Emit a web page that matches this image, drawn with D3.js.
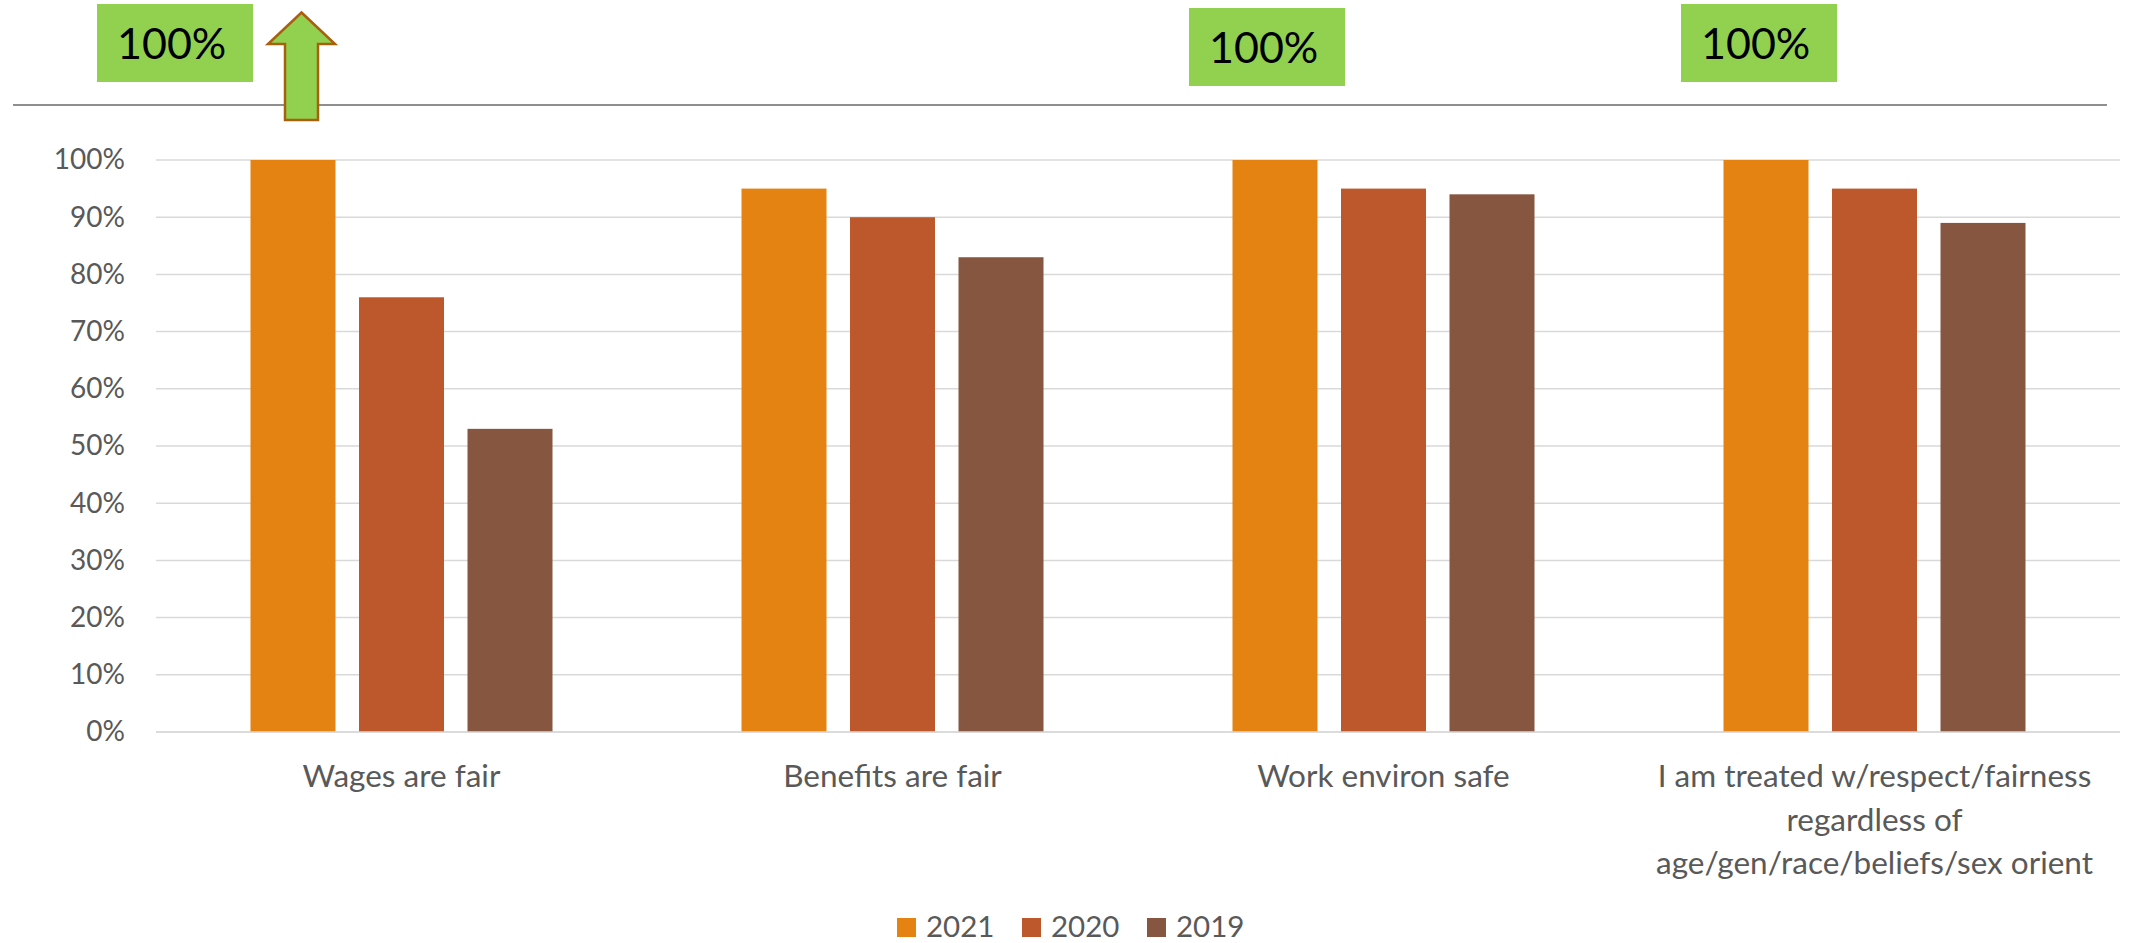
<!DOCTYPE html>
<html>
<head>
<meta charset="utf-8">
<script src="https://cdn.jsdelivr.net/npm/d3@7"></script>
<style>
  html, body { margin: 0; padding: 0; background: #ffffff; }
  svg { display: block; }
  text { font-family: "Lato", "Open Sans", sans-serif; }
</style>
</head>
<body>
<svg id="chart" width="2131" height="943"></svg>
<script>
// Survey results: share agreeing with each statement, by year
const categories = [
  "Wages are fair",
  "Benefits are fair",
  "Work environ safe",
  "I am treated w/respect/fairness regardless of age/gen/race/beliefs/sex orient"
];
const seriesNames = ["2021", "2020", "2019"];
const values2021 = [1.00, 0.95, 1.00, 1.00];
const values2020 = [0.76, 0.90, 0.95, 0.95];
const values2019 = [0.53, 0.83, 0.94, 0.89];
const yTicks = [0, 0.1, 0.2, 0.3, 0.4, 0.5, 0.6, 0.7, 0.8, 0.9, 1.0];
// Categories whose 2021 result gets a highlighted call-out box
const calloutCategories = ["Wages are fair", "Work environ safe", "I am treated w/respect/fairness regardless of age/gen/race/beliefs/sex orient"];

const seriesValues = [values2021, values2020, values2019];
const colors = ["#e48312", "#bd582c", "#865640"];

const svg = d3.select("#chart");
const plot = { left: 156, right: 2120, top: 160, bottom: 732 };

const x0 = d3.scaleBand().domain(categories).range([plot.left, plot.right]).padding(0);
const groupPad = 94.5;
const x1 = d3.scaleBand().domain(seriesNames)
  .range([groupPad, x0.bandwidth() - groupPad])
  .paddingInner(0.2166).paddingOuter(0);
const y = d3.scaleLinear().domain([0, 1]).range([plot.bottom, plot.top]);
const color = d3.scaleOrdinal().domain(seriesNames).range(colors);

// Horizontal gridlines
svg.append("g").selectAll("line").data(yTicks).join("line")
  .attr("x1", plot.left).attr("x2", plot.right)
  .attr("y1", d => y(d)).attr("y2", d => y(d))
  .attr("stroke", "#d9d9d9").attr("stroke-width", 1.5);

// Y axis labels
const yAxis = d3.axisLeft(y).tickValues(yTicks).tickFormat(d3.format(".0%"))
  .tickSize(0).tickPadding(31);
const yg = svg.append("g").attr("transform", `translate(${plot.left},0)`).call(yAxis);
yg.select(".domain").remove();
yg.selectAll("text").attr("fill", "#595959").style("font-size", "28px")
  .style("font-family", "Lato, 'Open Sans', sans-serif");

// Bars
const rows = categories.map((c, i) => ({ cat: c, vals: seriesNames.map((s, j) => ({ s, v: seriesValues[j][i] })) }));
const groups = svg.append("g").selectAll("g").data(rows).join("g")
  .attr("transform", d => `translate(${x0(d.cat)},0)`);
groups.selectAll("rect").data(d => d.vals).join("rect")
  .attr("x", d => x1(d.s))
  .attr("width", x1.bandwidth())
  .attr("y", d => y(d.v))
  .attr("height", d => y(0) - y(d.v))
  .attr("fill", d => color(d.s));

// Category axis line
svg.append("line")
  .attr("x1", plot.left).attr("x2", plot.right)
  .attr("y1", y(0)).attr("y2", y(0))
  .attr("stroke", "#d9d9d9").attr("stroke-width", 1.5);

// Category labels with word wrap inside each band
const catFont = 31.5;
const lineHeight = 43.5;
const labels = svg.append("g").selectAll("text").data(categories).join("text")
  .attr("x", d => x0(d) + x0.bandwidth() / 2)
  .attr("y", 787)
  .attr("text-anchor", "middle")
  .attr("fill", "#595959")
  .style("font-size", catFont + "px");
labels.each(function (d) {
  const t = d3.select(this);
  const words = d.split(" ");
  const maxW = x0.bandwidth() - 10;
  let line = [];
  let tspan = t.append("tspan").attr("x", x0(d) + x0.bandwidth() / 2).attr("dy", 0);
  words.forEach(w => {
    line.push(w);
    tspan.text(line.join(" "));
    if (tspan.node().getComputedTextLength() > maxW && line.length > 1) {
      line.pop();
      tspan.text(line.join(" "));
      line = [w];
      tspan = t.append("tspan").attr("x", x0(d) + x0.bandwidth() / 2)
        .attr("dy", lineHeight).text(w);
    }
  });
});

// Legend
const legendX = 897, legendStep = 125;
const legend = svg.append("g").selectAll("g").data(seriesNames).join("g")
  .attr("transform", (d, i) => `translate(${legendX + i * legendStep},918)`);
legend.append("rect").attr("width", 19).attr("height", 19).attr("fill", d => color(d));
legend.append("text").attr("x", 29).attr("y", 19)
  .attr("fill", "#595959").style("font-size", "29.5px").text(d => d);

// Separator line above the plot
svg.append("line")
  .attr("x1", 13).attr("x2", 2107).attr("y1", 105).attr("y2", 105)
  .attr("stroke", "#8f8f8f").attr("stroke-width", 2);

// Call-out boxes showing the 2021 value
const pct = d3.format(".0%");
const calloutLayout = [
  { dx: -59, top: 4 },
  { dx: 51, top: 8 },
  { dx: 52, top: 4 }
];
const callouts = svg.append("g").selectAll("g").data(calloutCategories).join("g")
  .attr("transform", (d, i) => `translate(${x0(d) + calloutLayout[i].dx},${calloutLayout[i].top})`);
callouts.append("rect").attr("width", 156).attr("height", 78).attr("fill", "#92d050");
callouts.append("text").attr("x", 20).attr("y", 55)
  .attr("fill", "#000000").style("font-size", "43px")
  .text(d => pct(values2021[categories.indexOf(d)]));

// Up arrow marking the rise in the first category
const ax = 301.5;
const arrowPts = [
  [ax, 12.5], [ax + 33.5, 44], [ax + 16.5, 44], [ax + 16.5, 120],
  [ax - 16.5, 120], [ax - 16.5, 44], [ax - 33.5, 44]
];
svg.append("path")
  .attr("d", d3.line()(arrowPts) + "Z")
  .attr("fill", "#92d050")
  .attr("stroke", "#a85f0e")
  .attr("stroke-width", 2.5)
  .attr("stroke-linejoin", "miter");
</script>
</body>
</html>
